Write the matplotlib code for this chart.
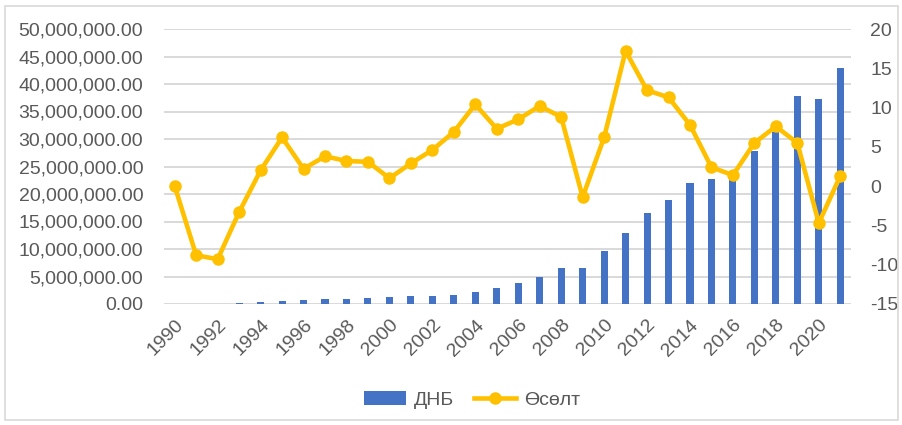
# Imports
import matplotlib
matplotlib.use("Agg")
import matplotlib.pyplot as plt
from matplotlib.ticker import FuncFormatter, MultipleLocator
from matplotlib.patches import Rectangle

# ---------------- DATA ----------------

years = list(range(1990, 2022))

# ДНБ (left axis)
gdp = [
    0.01e6, 0.02e6, 0.05e6, 0.18e6, 0.36e6, 0.55e6, 0.73e6, 0.9e6,
    0.9e6, 1.1e6, 1.3e6, 1.45e6, 1.45e6, 1.7e6, 2.2e6, 2.9e6,
    3.9e6, 4.85e6, 6.5e6, 6.5e6, 9.6e6, 13.0e6, 16.6e6, 19.0e6,
    22.05e6, 22.7e6, 23.3e6, 27.9e6, 31.3e6, 37.8e6, 37.3e6, 42.9e6,
]

# Өсөлт (right axis)
growth = [
    0.0, -8.8, -9.3, -3.3, 2.0, 6.2, 2.2, 3.8,
    3.2, 3.1, 1.0, 2.9, 4.6, 6.9, 10.4, 7.3,
    8.5, 10.2, 8.8, -1.4, 6.2, 17.2, 12.2, 11.3,
    7.8, 2.4, 1.4, 5.5, 7.6, 5.5, -4.7, 1.3,
]

# ---------------- STYLE ----------------

plt.rcParams["font.family"] = ["Liberation Sans", "DejaVu Sans"]
plt.rcParams["axes.unicode_minus"] = False
text_color = "#595959"
grid_color = "#D9D9D9"
bar_color = "#4472C4"
line_color = "#FFC000"

W, H = 903, 425
fig = plt.figure(figsize=(W / 100, H / 100), dpi=100)

# Chart border
fig.patches.append(Rectangle(
    (5 / W, 1 - 420 / H), 893 / W, 414 / H,
    transform=fig.transFigure, fill=False,
    edgecolor=grid_color, linewidth=1.2
))

# Plot area
ax = fig.add_axes([164 / W, 1 - 304 / H, (851 - 164) / W, (304 - 29) / H])
ax2 = ax.twinx()

x = list(range(len(years)))

# ---------------- BARS ----------------

ax.bar(x, gdp, width=0.33, color=bar_color, label="ДНБ", zorder=3)

ax.set_xlim(-0.5, len(years) - 0.5)
ax.set_ylim(0, 50e6)
ax.yaxis.set_major_locator(MultipleLocator(5e6))
ax.yaxis.set_major_formatter(FuncFormatter(lambda v, p: f"{v:,.2f}"))
ax.grid(axis="y", color=grid_color, linewidth=1.4, zorder=0)
ax.set_axisbelow(True)

ax.set_xticks(x[::2])
ax.set_xticklabels([str(y) for y in years[::2]], rotation=45,
                   ha="right", va="top", rotation_mode="anchor")

ax.tick_params(axis="y", length=0, pad=15, labelsize=14, labelcolor=text_color)
ax.tick_params(axis="x", length=0, pad=9, labelsize=14, labelcolor=text_color)

# ---------------- LINE ----------------

ax2.plot(x, growth, color=line_color, linewidth=3.3, marker="o",
         markersize=8, label="Өсөлт", zorder=4)
ax2.set_ylim(-15, 20)
ax2.yaxis.set_major_locator(MultipleLocator(5))
ax2.tick_params(axis="y", length=0, pad=14, labelsize=14, labelcolor=text_color)

for a in (ax, ax2):
    for spine in a.spines.values():
        spine.set_visible(False)

# ---------------- LEGEND ----------------

h1, l1 = ax.get_legend_handles_labels()
h2, l2 = ax2.get_legend_handles_labels()
fig.legend(h1 + h2, l1 + l2, loc="center",
           bbox_to_anchor=(472 / W, 1 - 400 / H), ncol=2, frameon=False,
           fontsize=14, labelcolor=text_color, handlelength=2.2,
           columnspacing=1.0, handletextpad=0.4)

fig.savefig("out.png", dpi=100)
